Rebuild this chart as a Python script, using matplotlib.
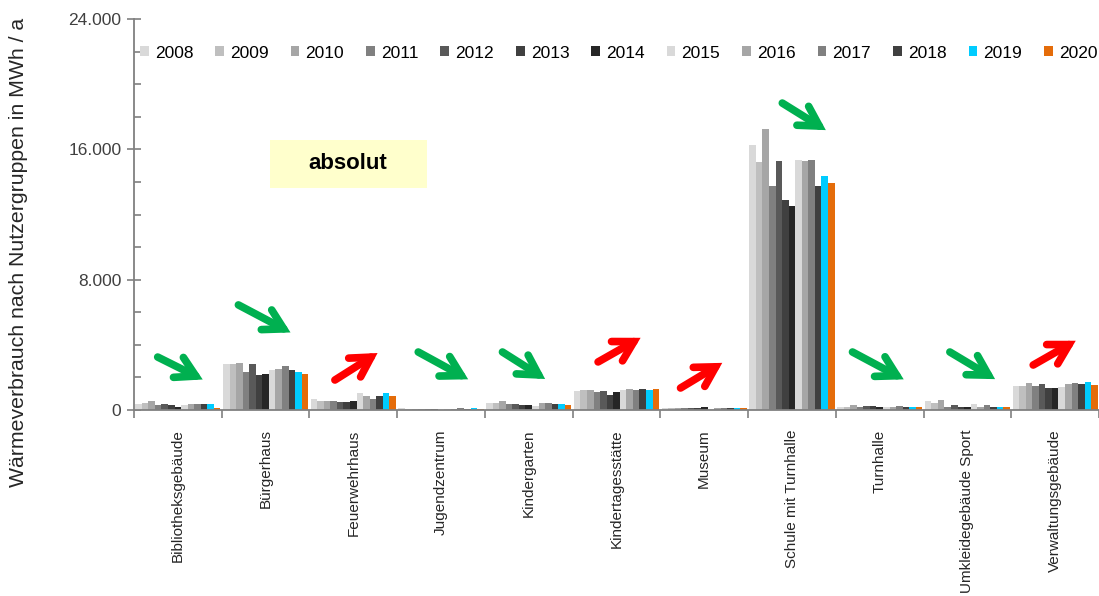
import numpy as np
import matplotlib
matplotlib.use("Agg")
import matplotlib.pyplot as plt
from matplotlib.patches import Patch, Rectangle
from matplotlib.ticker import MultipleLocator, FuncFormatter

plt.rcParams['font.family'] = ['Liberation Sans', 'DejaVu Sans']

# Nutzergruppen und Jahre
categories = ["Bibliotheksgebäude", "Bürgerhaus", "Feuerwehrhaus", "Jugendzentrum",
              "Kindergarten", "Kindertagesstätte", "Museum", "Schule mit Turnhalle",
              "Turnhalle", "Umkleidegebäude Sport", "Verwaltungsgebäude"]
years = ["2008", "2009", "2010", "2011", "2012", "2013", "2014",
         "2015", "2016", "2017", "2018", "2019", "2020"]

# Wärmeverbrauch in MWh/a, eine Zeile je Nutzergruppe (Spalten = Jahre)
bibliothek = [350, 410, 570, 290, 350, 290, 200, 290, 350, 350, 350, 350, 120]
buergerhaus = [2800, 2840, 2885, 2350, 2840, 2130, 2190, 2475, 2540, 2700, 2455, 2350, 2190]
feuerwehr = [655, 570, 530, 570, 470, 470, 530, 1020, 840, 655, 840, 1020, 840]
jugendzentrum = [120, 80, 40, 40, 80, 40, 10, 80, 80, 120, 80, 120, 80]
kindergarten = [410, 410, 530, 390, 390, 330, 330, 245, 410, 410, 370, 370, 330]
kita = [1190, 1230, 1230, 1105, 1190, 940, 1105, 1230, 1270, 1230, 1270, 1230, 1290]
museum = [100, 100, 100, 120, 120, 140, 160, 60, 100, 100, 100, 120, 120]
schule = [16270, 15200, 17230, 13750, 15290, 12890, 12520, 15330, 15290, 15330, 13750, 14350, 13920]
turnhalle = [200, 200, 305, 160, 225, 225, 160, 200, 200, 245, 200, 200, 200]
umkleide = [550, 450, 615, 200, 305, 200, 165, 370, 165, 305, 200, 200, 200]
verwaltung = [1495, 1495, 1680, 1495, 1600, 1370, 1370, 1430, 1575, 1660, 1600, 1700, 1535]

values = np.array([bibliothek, buergerhaus, feuerwehr, jugendzentrum, kindergarten, kita,
                   museum, schule, turnhalle, umkleide, verwaltung])

colors = ["#d9d9d9", "#bfbfbf", "#a6a6a6", "#808080", "#595959", "#404040", "#262626",
          "#d9d9d9", "#a6a6a6", "#808080", "#404040", "#00ccff", "#e46c0a"]

# Trendpfeile: (Gruppe, x-Start, y-Start, x-Ende, y-Ende, Farbe)
green = "#00b050"
red = "#ff0000"
arrows = [
    (0, -0.23, 3250, 0.34, 1720, green),
    (1, -0.31, 6450, 0.34, 4600, green),
    (2, -0.21, 1840, 0.33, 3680, red),
    (3, -0.26, 3560, 0.365, 1720, green),
    (4, -0.30, 3560, 0.24, 1720, green),
    (5, -0.21, 2950, 0.33, 4600, red),
    (6, -0.27, 1350, 0.26, 3070, red),
    (7, -0.11, 18840, 0.44, 17000, green),
    (8, -0.31, 3560, 0.33, 1720, green),
    (9, -0.20, 3560, 0.37, 1720, green),
    (10, -0.25, 2760, 0.29, 4420, red),
]

fig = plt.figure(figsize=(10.99, 5.96), dpi=100)
ax = fig.add_axes([134 / 1099, 1 - 410 / 596, 965 / 1099, 391 / 596])

x = np.arange(len(categories))
n = len(years)
bw = 0.97 / n
for j, yr in enumerate(years):
    ax.bar(x - 0.485 + bw * (j + 0.5), values[:, j], width=bw, color=colors[j],
           linewidth=0, label=yr, zorder=2)

for i, x0, y0, x1, y1, c in arrows:
    ax.annotate("", xy=(i + x1, y1), xytext=(i + x0, y0),
                arrowprops=dict(arrowstyle="->,head_length=0.7,head_width=0.4",
                                mutation_scale=20, color=c, lw=5.5, shrinkA=0, shrinkB=4,
                                capstyle="round", joinstyle="miter"),
                zorder=3)

ax.set_xlim(-0.5, len(categories) - 0.5)
ax.set_ylim(0, 24000)

gray = "#808080"
for s in ["top", "right"]:
    ax.spines[s].set_visible(False)
for s in ["left", "bottom"]:
    ax.spines[s].set_color(gray)
    ax.spines[s].set_linewidth(1.3)

ax.yaxis.set_major_locator(MultipleLocator(8000))
ax.yaxis.set_minor_locator(MultipleLocator(2000))
ax.yaxis.set_major_formatter(FuncFormatter(lambda v, p: "0" if v == 0 else f"{v:,.0f}".replace(",", ".")))
ax.tick_params(axis="y", which="major", direction="inout", length=10, width=1.2,
               color=gray, labelsize=12.5, labelcolor="#404040", pad=4)
ax.tick_params(axis="y", which="minor", direction="in", length=5, width=1.2, color=gray)

# Kategorie-Trennstriche an den Gruppengrenzen, Beschriftung in Gruppenmitte
ax.set_xticks(np.arange(len(categories) + 1) - 0.5)
ax.set_xticklabels([])
ax.set_xticks(x, minor=True)
ax.set_xticklabels(categories, minor=True, rotation=90, fontsize=11, color="#262626")
ax.tick_params(axis="x", which="major", direction="out", length=6, width=1.2, color=gray)
ax.tick_params(axis="x", which="minor", length=0, pad=14)

fig.text(19 / 1099, 1 - 252 / 596, "Wärmeverbrauch nach Nutzergruppen in MWh / a",
         rotation=90, ha="center", va="center", fontsize=15.3, color="#262626")

handles = [Patch(facecolor=c, edgecolor="none") for c in colors]
fig.legend(handles, years, loc="center left", bbox_to_anchor=(140 / 1099, 1 - 53 / 596),
           ncol=n, frameon=False, fontsize=12.5, handlelength=0.5, handleheight=0.5,
           handletextpad=0.35, columnspacing=1.27, borderaxespad=0, borderpad=0)

fig.patches.append(Rectangle((270 / 1099, 1 - 188 / 596), 157 / 1099, 48 / 596,
                             transform=fig.transFigure, facecolor="#ffffcc",
                             edgecolor="none", zorder=1))
fig.text(348 / 1099, 1 - 164 / 596, "absolut", ha="center", va="center",
         fontsize=16, fontweight="bold", color="black", zorder=5)

fig.savefig("out.png", dpi=100)
